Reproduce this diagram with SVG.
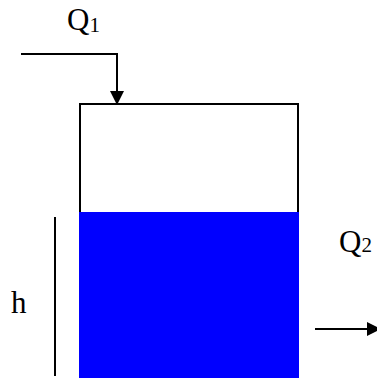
<svg xmlns="http://www.w3.org/2000/svg" width="377" height="378" viewBox="0 0 377 378">
<style>
.ln{stroke:#000;stroke-width:2;fill:none}
.lbl{font-family:"Liberation Serif","Times New Roman",serif;font-size:31px;fill:#000}
.sub{font-size:21px}
</style>
<rect width="377" height="378" fill="#fff"/>
<g id="tank">
<rect x="80" y="104" width="218" height="274" fill="#fff" stroke="#000" stroke-width="2"/>
<rect x="79" y="212" width="220" height="166" fill="#0000ff"/>
</g>
<g id="connectors">
<polyline class="ln" points="21,54 117,54 117,92"/>
<polygon points="110,91 124,91 117,105" fill="#000"/>
<line class="ln" x1="315" y1="329" x2="368" y2="329"/>
<polygon points="367,322 367,336 381,329" fill="#000"/>
<line class="ln" x1="55" y1="217" x2="55" y2="376"/>
</g>
<g id="labels">
<text class="lbl" x="67" y="30">Q<tspan class="sub" dy="2">1</tspan></text>
<text class="lbl" x="339" y="252">Q<tspan class="sub" dy="0">2</tspan></text>
<text class="lbl" x="11" y="313">h</text>
</g>
</svg>
